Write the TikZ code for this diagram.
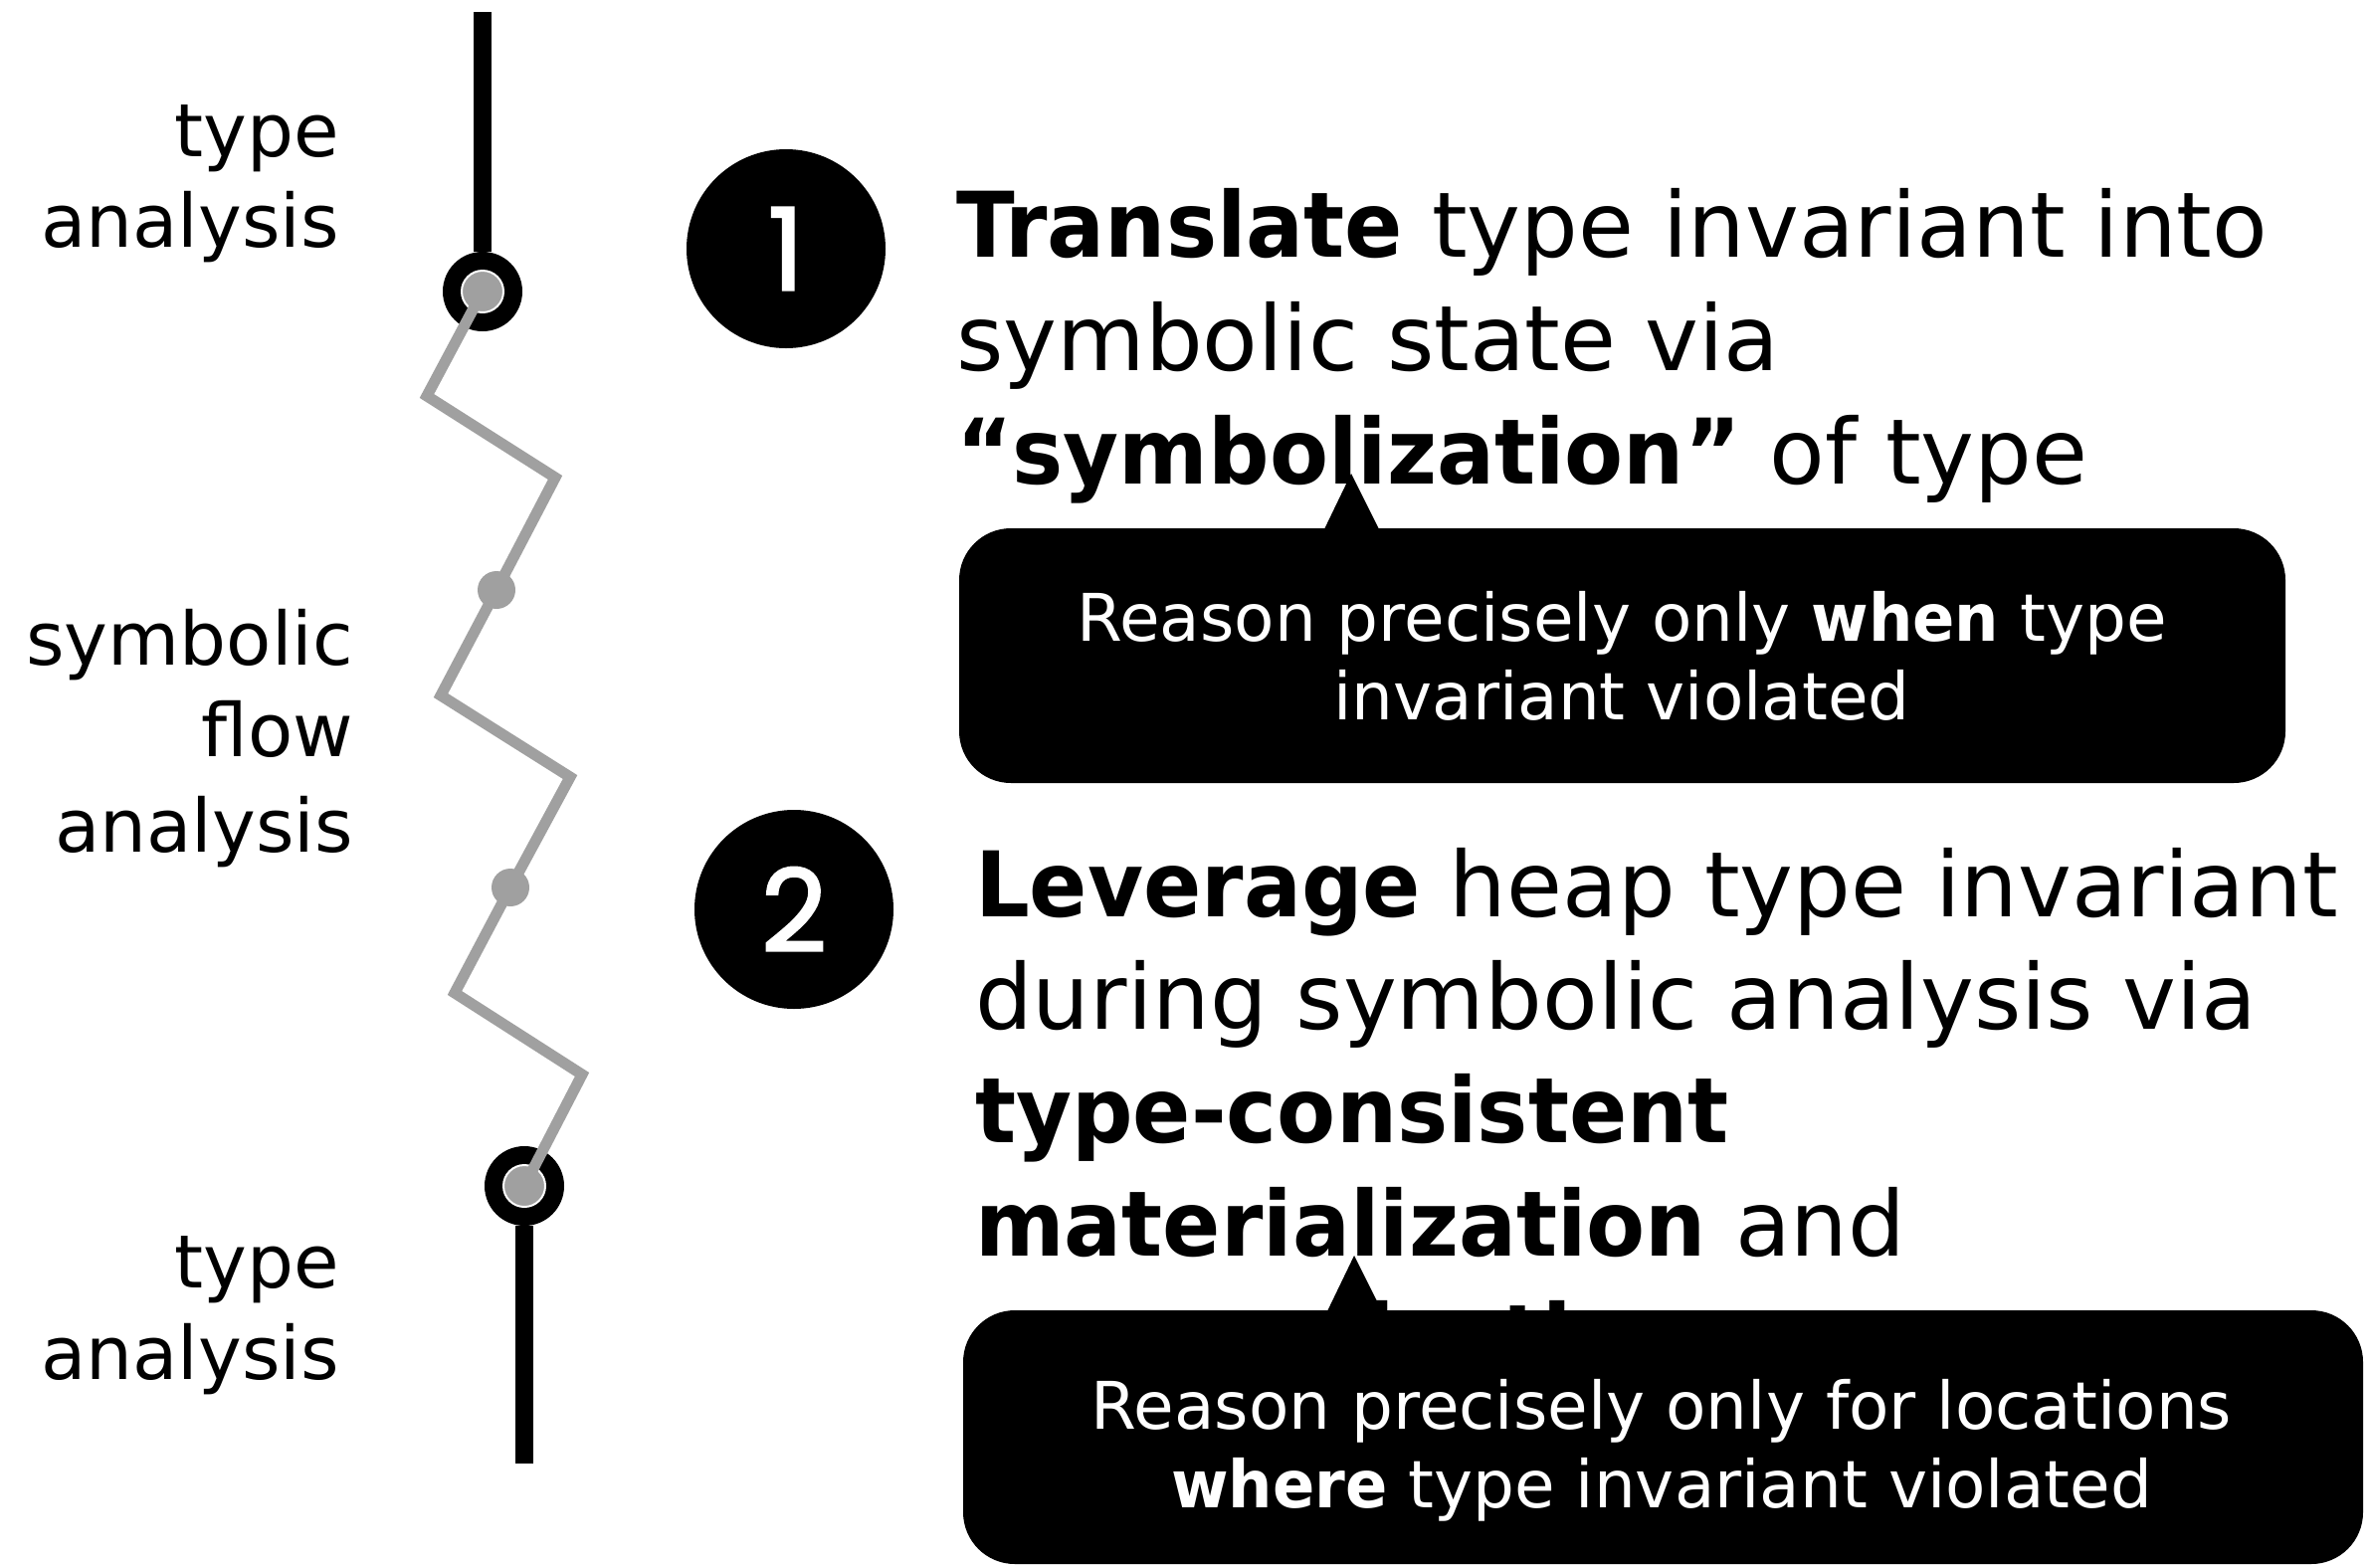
\documentclass[tikz,border=0pt]{standalone}
\usepackage{fontspec}
\setmainfont{DejaVu Sans}[BoldFeatures={FakeStretch=0.945}]
\newfontfamily\numfont{Poppins}[FakeBold=2]
\definecolor{zgray}{HTML}{A0A0A0}
\begin{document}
\begin{tikzpicture}[x=1pt,y=-1pt,
  maintext/.style={anchor=base west, inner sep=0pt, font=\fontsize{91}{114}\selectfont},
  sidetext/.style={anchor=base east, inner sep=0pt, font=\fontsize{74}{91}\selectfont},
  calltext/.style={anchor=base, inner sep=0pt, text=white, font=\fontsize{66}{79}\selectfont},
  numcircle/.style={circle, fill=black, minimum size=200pt, inner sep=0pt, text=white, font=\numfont\fontsize{115}{115}\selectfont},
  callout/.style={rectangle, fill=black, rounded corners=52pt, inner sep=0pt},
  blackbar/.style={draw=black, line width=18pt},
  zig/.style={draw=zgray, line width=11pt, line join=miter},
  ring/.style={circle, fill=black, minimum size=80pt, inner sep=0pt},
  ringin/.style={circle, fill=zgray, draw=white, line width=2pt, minimum size=42pt, inner sep=0pt},
  gdot/.style={circle, fill=zgray, minimum size=38pt, inner sep=0pt}]
\useasboundingbox (0,0) rectangle (2383,1575);

% left labels
\node[sidetext] (l1a) at (341,157) {type};
\node[sidetext] (l1b) at (341,248) {analysis};
\node[sidetext] (l2a) at (355,668) {symbolic};
\node[sidetext] (l2b) at (355,760) {flow};
\node[sidetext] (l2c) at (355,856) {analysis};
\node[sidetext] (l3a) at (341,1294) {type};
\node[sidetext] (l3b) at (341,1386) {analysis};

% timeline
\coordinate (ttop) at (485,12);
\coordinate (bbot) at (527,1471);
\coordinate (z1) at (429,398);
\coordinate (z2) at (558,480);
\coordinate (z3) at (443,699);
\coordinate (z4) at (573,781);
\coordinate (z5) at (457,998);
\coordinate (z6) at (585,1080);
\node[ring] (tc) at (485,293) {};
\node[ringin] (tci) at (tc.center) {};
\node[ring] (bc) at (527,1192) {};
\node[ringin] (bci) at (bc.center) {};
\node[gdot] (dot1) at (499,593) {};
\node[gdot] (dot2) at (513,892) {};
\draw[blackbar] (ttop) -- (tc);
\draw[blackbar] (bc) -- (bbot);
\draw[zig] (tci.center) -- (z1) -- (z2) -- (dot1.center) -- (z3) -- (z4) -- (dot2.center) -- (z5) -- (z6) -- (bci.center);

% numbered circles
\node[numcircle] (n1) at (790,250) {1};
\node[numcircle] (n2) at (798,914) {2};

% item 1 text
\node[maintext] (t1a) at (961,258) {\textbf{Translate} type invariant into};
\node[maintext] (t1b) at (961,372) {symbolic state via};
\node[maintext] (t1c) at (961,486) {\textbf{“symbolization”} of type};

% item 2 text
\node[maintext] (t2a) at (980,921) {\textbf{Leverage} heap type invariant};
\node[maintext] (t2b) at (980,1034) {during symbolic analysis via};
\node[maintext] (t2c) at (980,1148) {\textbf{type-consistent}};
\node[maintext] (t2d) at (980,1262) {\textbf{materialization} and};
\node[maintext] (t2e) at (980,1376) {\textbf{summarization}};

% callout 1
\node[callout, minimum width=1333pt, minimum height=256pt] (c1) at (1630.5,659) {};
\coordinate (p1) at (1358,476);
\fill[black] (1330,534) -- (p1) -- (1387,534) -- cycle;
\node[calltext] (c1a) at (1630,644) {Reason precisely only \textbf{when} type};
\node[calltext] (c1b) at (1630,723) {invariant violated};

% callout 2
\node[callout, minimum width=1407pt, minimum height=255pt] (c2) at (1671.5,1444.5) {};
\coordinate (p2) at (1361,1262);
\fill[black] (1333,1320) -- (p2) -- (1390,1320) -- cycle;
\node[calltext] (c2a) at (1670,1436) {Reason precisely only for locations};
\node[calltext] (c2b) at (1670,1515) {\textbf{where} type invariant violated};
\end{tikzpicture}
\end{document}
